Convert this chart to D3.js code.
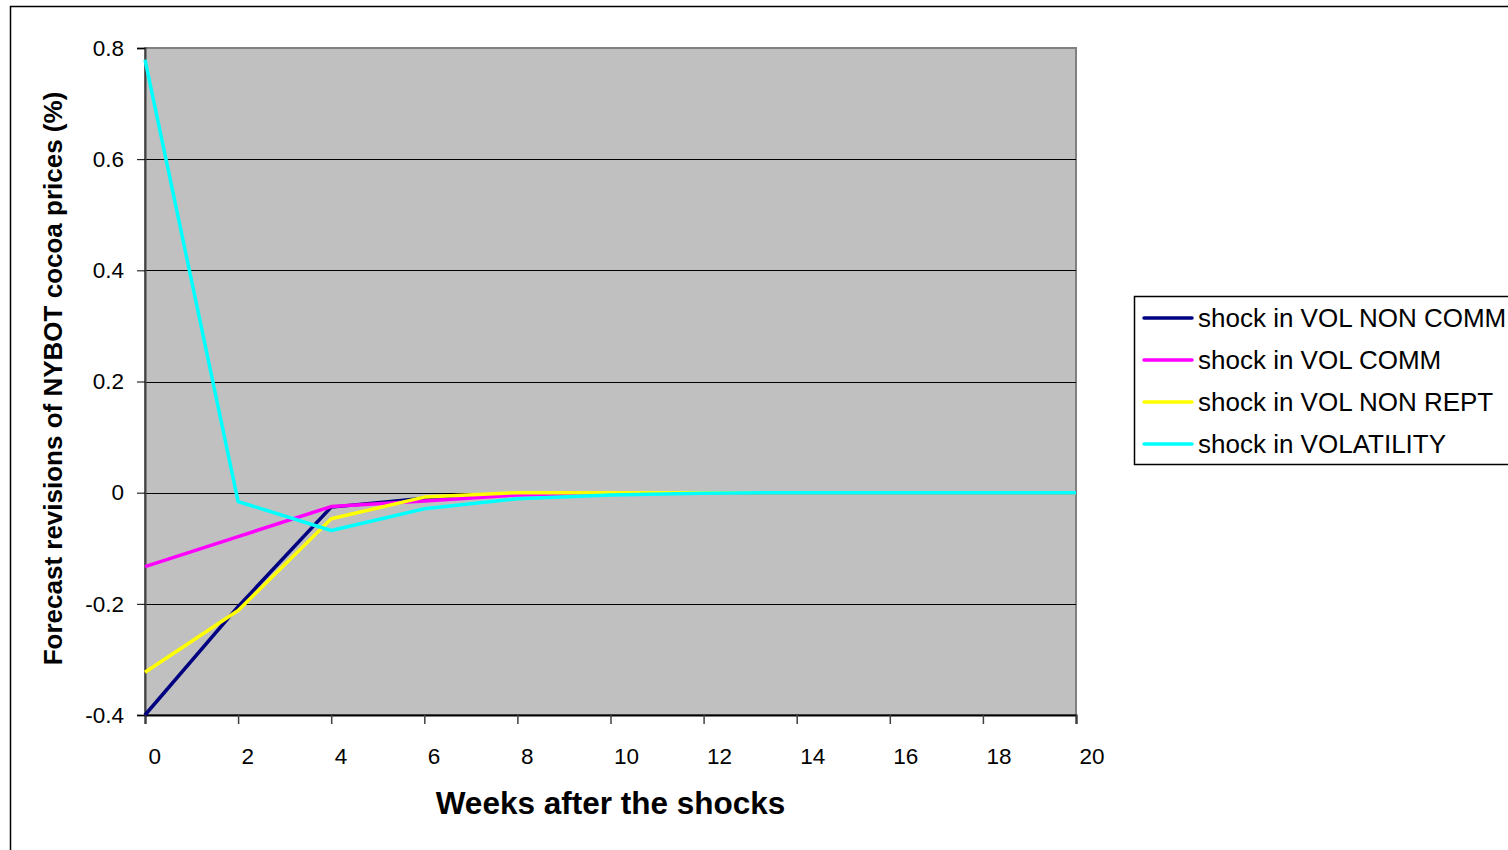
<!DOCTYPE html>
<html>
<head>
<meta charset="utf-8">
<script src="https://cdn.jsdelivr.net/npm/d3@7"></script>
<style>
  body { margin: 0; background: #fff; }
  svg { display: block; font-family: "Liberation Sans", Arial, sans-serif; }
</style>
</head>
<body>
<svg id="chart" width="1508" height="850"></svg>
<script>
const weeks = [0, 2, 4, 6, 8, 10, 12, 14, 16, 18, 20];
const volNonComm = [-0.4, -0.205, -0.026, -0.01, -0.003, 0, 0, 0, 0, 0, 0];
const volComm = [-0.133, -0.079, -0.025, -0.015, -0.004, -0.001, 0, 0, 0, 0, 0];
const volNonRept = [-0.323, -0.212, -0.047, -0.008, 0, 0, 0, 0, 0, 0, 0];
const volatility = [0.779, -0.016, -0.068, -0.029, -0.011, -0.004, -0.001, 0, 0, 0, 0];
const seriesNames = ['shock in VOL NON COMM', 'shock in VOL COMM', 'shock in VOL NON REPT', 'shock in VOLATILITY'];
const seriesColors = ['#000080', '#ff00ff', '#ffff00', '#00ffff'];
const yTicks = [-0.4, -0.2, 0, 0.2, 0.4, 0.6, 0.8];

const series = [volNonComm, volComm, volNonRept, volatility].map((vals, i) => ({
  name: seriesNames[i], color: seriesColors[i], values: vals
}));

const svg = d3.select('#chart');
const margin = { top: 48, left: 145, right: 432, bottom: 135 };
const width = 1508, height = 850;
const font = '"Liberation Sans", Arial, sans-serif';

// outer chart frame
svg.append('rect')
  .attr('x', 10.5).attr('y', 6.5)
  .attr('width', 1520).attr('height', 870)
  .attr('fill', 'none').attr('stroke', '#000').attr('stroke-width', 1.5);

const x = d3.scaleLinear().domain([0, 20]).range([margin.left, width - margin.right]);
const y = d3.scaleLinear().domain([-0.4, 0.8]).range([height - margin.bottom, margin.top]);

// plot area
svg.append('rect')
  .attr('x', x(0)).attr('y', y(0.8))
  .attr('width', x(20) - x(0)).attr('height', y(-0.4) - y(0.8))
  .attr('fill', '#c0c0c0').attr('stroke', '#808080').attr('stroke-width', 2);

// gridlines
svg.append('g')
  .selectAll('line')
  .data(yTicks.filter(d => d > -0.4 && d < 0.8))
  .join('line')
    .attr('x1', x(0)).attr('x2', x(20))
    .attr('y1', d => Math.round(y(d)) + 0.5).attr('y2', d => Math.round(y(d)) + 0.5)
    .attr('stroke', '#000').attr('stroke-width', 1);

// y axis
const yAxis = svg.append('g')
  .attr('transform', `translate(${x(0)},0)`)
  .call(d3.axisLeft(y).tickValues(yTicks).tickSize(8).tickPadding(13)
    .tickFormat(d => d === 0 ? '0' : d3.format('.1f')(d).replace('−', '-')));
yAxis.select('.domain').attr('stroke', '#404040').attr('stroke-width', 2);
yAxis.selectAll('.tick line').attr('stroke', '#000');
yAxis.selectAll('text').attr('font-size', 22.5).attr('fill', '#000')
  .attr('font-family', font);

// x axis
const xAxis = svg.append('g')
  .attr('transform', `translate(0,${y(-0.4)})`)
  .call(d3.axisBottom(x).tickValues(weeks).tickSize(9).tickPadding(24));
xAxis.select('.domain').attr('stroke', '#000').attr('stroke-width', 2);
xAxis.selectAll('.tick line').attr('stroke', '#404040').attr('stroke-width', 1.5);
xAxis.selectAll('text').attr('font-size', 22.5).attr('fill', '#000')
  .attr('text-anchor', 'start').attr('dx', 3)
  .attr('font-family', font);

// lines
const line = d3.line().x((d, i) => x(weeks[i])).y(d => y(d));
svg.append('g')
  .selectAll('path')
  .data(series)
  .join('path')
    .attr('d', d => line(d.values))
    .attr('fill', 'none')
    .attr('stroke', d => d.color)
    .attr('stroke-width', 3.5)
    .attr('stroke-linejoin', 'round');

// axis titles
svg.append('text')
  .attr('x', (x(0) + x(20)) / 2).attr('y', 814)
  .attr('text-anchor', 'middle')
  .attr('font-size', 31.5).attr('font-weight', 'bold')
  .text('Weeks after the shocks');

svg.append('text')
  .attr('transform', `translate(62,${(y(0.8) + y(-0.4)) / 2 - 3}) rotate(-90)`)
  .attr('text-anchor', 'middle')
  .attr('font-size', 26).attr('font-weight', 'bold')
  .text('Forecast revisions of NYBOT cocoa prices (%)');

// legend
const legend = svg.append('g').attr('transform', 'translate(1134,296)');
legend.append('rect')
  .attr('x', 0.5).attr('y', 0.5).attr('width', 420).attr('height', 168)
  .attr('fill', '#fff').attr('stroke', '#000').attr('stroke-width', 1.5);
const items = legend.selectAll('g.item')
  .data(series)
  .join('g')
    .attr('class', 'item')
    .attr('transform', (d, i) => `translate(0,${22 + i * 42})`);
items.append('line')
  .attr('x1', 10).attr('x2', 58)
  .attr('stroke', d => d.color).attr('stroke-width', 3.5).attr('stroke-linecap', 'round');
items.append('text')
  .attr('x', 64).attr('y', 9)
  .attr('font-size', 26)
  .text(d => d.name);
</script>
</body>
</html>
